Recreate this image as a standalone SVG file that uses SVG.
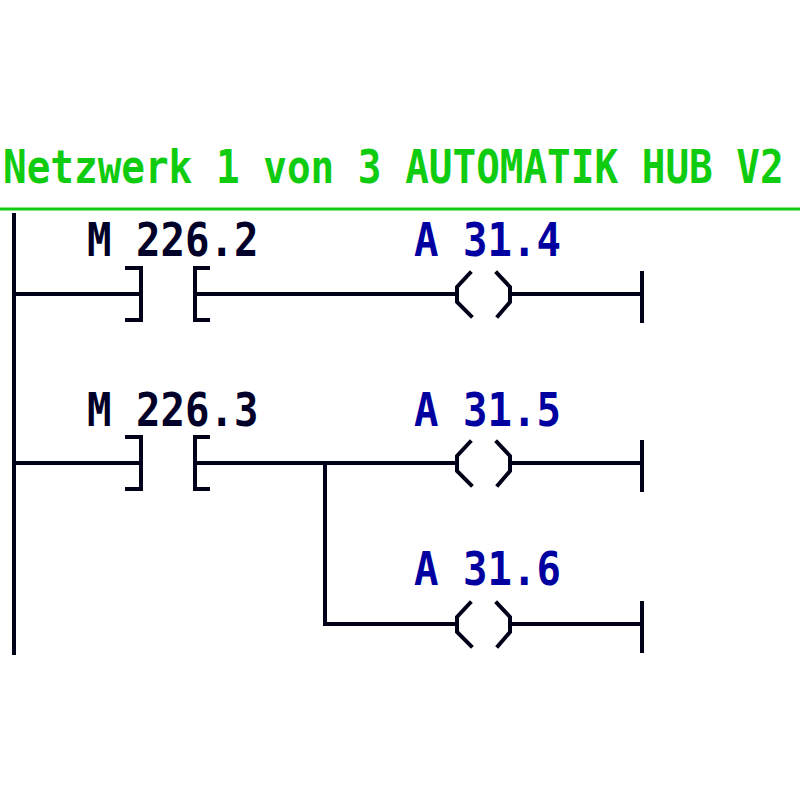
<svg xmlns="http://www.w3.org/2000/svg" width="800" height="800" viewBox="0 0 800 800">
<style>
.w{stroke:#000018;stroke-width:4;fill:none;stroke-linecap:square;stroke-linejoin:miter}
.t{font-family:"DejaVu Sans Mono","Liberation Mono",monospace;font-size:40.7px;font-weight:bold}
.title{fill:#10cc10;font-size:39.3px}
.m{fill:#000028}
.a{fill:#0000a0}
</style>
<defs>
<g id="contact">
<path class="w" d="M127,-26 H141 V26 H127"/>
<path class="w" d="M208,-26 H195 V26 H208"/>
</g>
<g id="coil">
<path class="w" d="M470,-21 L457,-7 V8 L471,22"/>
<path class="w" d="M497,-21 L510,-7 V8 L498,22"/>
</g>
<g id="endbar">
<line class="w" x1="642" y1="-21" x2="642" y2="27"/>
</g>
</defs>
<rect width="800" height="800" fill="#ffffff"/>
<g id="header">
<g transform="translate(3,183) scale(1,1.19)"><text class="t title" x="0" y="0">Netzwerk 1 von 3 AUTOMATIK HUB V2</text></g>
<line x1="0" y1="209" x2="800" y2="209" stroke="#10cc10" stroke-width="3"/>
</g>
<g id="connectors">
<line class="w" x1="14" y1="215" x2="14" y2="653"/>
<line class="w" x1="14" y1="294" x2="141" y2="294"/>
<line class="w" x1="195" y1="294" x2="457" y2="294"/>
<line class="w" x1="510" y1="294" x2="642" y2="294"/>
<line class="w" x1="14" y1="463" x2="141" y2="463"/>
<line class="w" x1="195" y1="463" x2="457" y2="463"/>
<line class="w" x1="510" y1="463" x2="642" y2="463"/>
<path class="w" d="M325,463 V624 H457"/>
<line class="w" x1="510" y1="624" x2="642" y2="624"/>
</g>
<g id="contact1">
<use href="#contact" transform="translate(0,294)"/>
<g transform="translate(87,256) scale(1,1.12)"><text class="t m" x="0" y="0">M 226.2</text></g>
</g>
<g id="coil1">
<use href="#coil" transform="translate(0,294)"/>
<g transform="translate(414,256) scale(1,1.12)"><text class="t a" x="0" y="0">A 31.4</text></g>
</g>
<g id="end1"><use href="#endbar" transform="translate(0,294)"/></g>
<g id="contact2">
<use href="#contact" transform="translate(0,463)"/>
<g transform="translate(87,426) scale(1,1.12)"><text class="t m" x="0" y="0">M 226.3</text></g>
</g>
<g id="coil2">
<use href="#coil" transform="translate(0,463)"/>
<g transform="translate(414,426) scale(1,1.12)"><text class="t a" x="0" y="0">A 31.5</text></g>
</g>
<g id="end2"><use href="#endbar" transform="translate(0,463)"/></g>
<g id="coil3">
<use href="#coil" transform="translate(0,624)"/>
<g transform="translate(414,585) scale(1,1.12)"><text class="t a" x="0" y="0">A 31.6</text></g>
</g>
<g id="end3"><use href="#endbar" transform="translate(0,624)"/></g>
</svg>
